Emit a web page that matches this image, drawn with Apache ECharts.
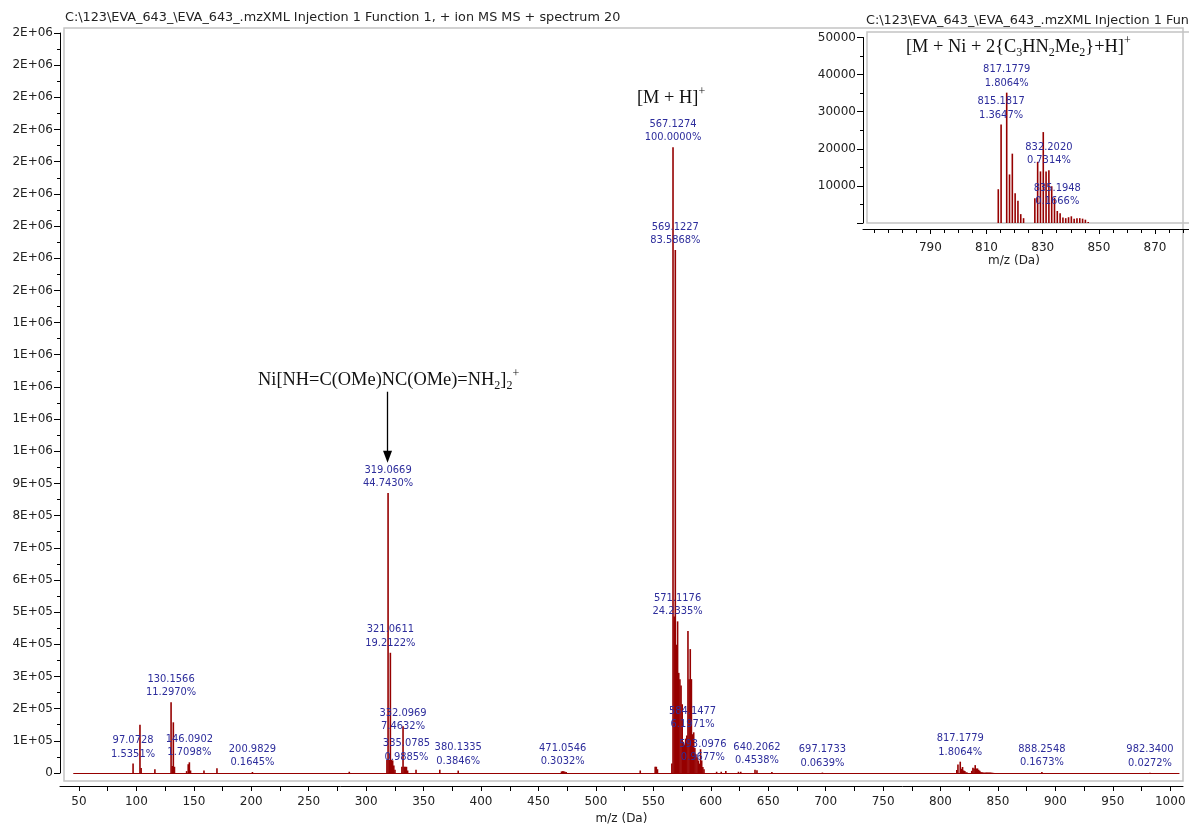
<!DOCTYPE html>
<html>
<head>
<meta charset="utf-8">
<script src="https://cdn.jsdelivr.net/npm/echarts@6/dist/echarts.min.js"></script>
<style>
  html, body { margin: 0; padding: 0; background: #ffffff; }
  #chart { width: 1189px; height: 826px; }
</style>
</head>
<body>
<div id="chart"></div>
<script>
// Intensity of the base peak (100 %), counts
const baseIntensity = 1945000;

// Centroided sticks: m/z and relative intensity (% of base peak)
const peakMz = [
  97.0728, 103.08, 104.08, 116.07, 130.1566, 131.13, 132.12, 133.1, 143.7, 145.08, 146.0902, 147.09, 158.8, 170.1, 200.9829, 285.3,
  318.07, 319.0669, 320.07, 321.0611, 322.06, 323.07, 324.07, 325.07, 331.09, 332.0969, 333.09, 334.09, 335.0785, 336.08, 343.4,
  364.1, 380.1335, 470.05, 471.0546, 472.05, 473.06, 474.1, 538.6, 551.6, 552.6, 553.6,
  566.12, 567.1274, 568.13, 569.1227, 570.12, 571.1176, 572.12, 573.12, 574.12, 575.12, 576.1, 577.1, 578.13, 579.14, 580.14, 581.14, 582.14, 583.14,
  584.1477, 585.14, 586.14, 587.1, 588.1, 589.1, 590.1, 591.1, 592.1, 593.0976, 594.1, 605.1, 609.1, 613.1, 624.1, 626.1, 638.5, 640.2062, 653.2, 697.1733,
  814.18, 815.1817, 817.1779, 818.18, 819.18, 820.18, 821.18, 822.18, 823.18,
  827.2, 828.2, 829.2, 830.2, 831.2, 832.2020, 833.2, 834.2, 835.1948, 836.2, 837.2, 838.2, 839.2, 840.2, 841.2, 842.2, 843.2, 844.2, 845.2, 846.2,
  888.2548, 982.3400
];
const peakPct = [
  1.5351, 7.7, 0.8, 0.6, 11.2970, 1.1, 8.1, 1.0, 0.3, 1.4, 1.7098, 0.4, 0.4, 0.75, 0.1645, 0.2,
  2.1, 44.7430, 2.1, 19.2122, 2.1, 2.0, 1.2, 0.5, 1.0, 7.4632, 1.0, 1.0, 0.9885, 0.4, 0.5,
  0.5, 0.3846, 0.25, 0.3032, 0.28, 0.2, 0.15, 0.4, 1.0, 1.0, 0.6,
  1.5, 100.0000, 25, 83.5868, 20.5, 24.2335, 16, 15, 14, 11, 5, 4.5, 5.5, 6, 22.7, 15, 19.8, 15,
  6.1971, 6.5, 4, 3, 2.5, 2, 1.5, 3.8, 2.0, 0.9677, 0.6, 0.2, 0.2, 0.3, 0.2, 0.2, 0.5, 0.4538, 0.15, 0.0639,
  0.468, 1.3647, 1.8064, 0.673, 0.961, 0.411, 0.308, 0.123, 0.067,
  0.344, 0.848, 0.715, 1.26, 0.715, 0.7314, 0.509, 0.35, 0.1666, 0.134, 0.077, 0.067, 0.08, 0.093, 0.06, 0.067, 0.067, 0.06, 0.046, 0.015,
  0.1673, 0.0272
];

// Peaks annotated with m/z and % in the full spectrum and in the zoomed panel
const mainLabelMz = [97.0728, 130.1566, 146.0902, 200.9829, 319.0669, 321.0611, 332.0969, 335.0785, 380.1335,
  471.0546, 567.1274, 569.1227, 571.1176, 584.1477, 593.0976, 640.2062, 697.1733, 817.1779, 888.2548, 982.3400];
const insetLabelMz = [815.1817, 817.1779, 832.2020, 835.1948];

// Axis tick values
const mainXTicks = [50, 100, 150, 200, 250, 300, 350, 400, 450, 500, 550, 600, 650, 700, 750, 800, 850, 900, 950, 1000];
const mainXMinor = [75, 125, 175, 225, 275, 325, 375, 425, 475, 525, 575, 625, 675, 725, 775, 825, 875, 925, 975];
const insetXTicks = [790, 810, 830, 850, 870];
const insetXMinor = [770, 775, 780, 785, 795, 800, 805, 815, 820, 825, 835, 840, 845, 855, 860, 865, 875, 880];

// Scan range of the acquisition (drawn as the baseline)
const scanRange = [45, 1008];

const stickColor = '#960000';
const labelColor = '#2d2d9c';
const uiFont = 'DejaVu Sans';
const titleText = 'C:\\123\\EVA_643_\\EVA_643_.mzXML Injection 1 Function 1, + ion MS MS + spectrum 20';

// per-label vertical nudges (px) where the label sits lower than the stick top
const labelNudge = { '332.0969': 10 };

function sci(v) {
  if (v === 0) return '0';
  const parts = v.toExponential(0).split('e');
  const ex = parseInt(parts[1], 10);
  return parts[0] + 'E' + (ex < 0 ? '-' : '+') + String(Math.abs(ex)).padStart(2, '0');
}

function peakLabel(m, pct) {
  return m.toFixed(4) + '\n' + pct.toFixed(4) + '%';
}

function buildData(labelSet, nudges) {
  return peakMz.map((m, i) => {
    const item = { value: [m, peakPct[i] / 100 * baseIntensity] };
    if (labelSet.indexOf(m) >= 0) {
      const key = m.toFixed(4);
      item.label = { show: true, formatter: peakLabel(m, peakPct[i]) };
      if (nudges && nudges[key]) item.label.offset = [0, nudges[key]];
    }
    return item;
  });
}

const labelStyle = {
  position: 'top',
  distance: 3,
  color: labelColor,
  fontFamily: 'DejaVu Sans Condensed',
  fontSize: 11,
  lineHeight: 13.5
};

const serif = 'Liberation Serif';
const formulaRich = {
  s: { fontSize: 12, fontFamily: serif, fill: '#111', verticalAlign: 'bottom', lineHeight: 24 },
  p: { fontSize: 12, fontFamily: serif, fill: '#111', verticalAlign: 'top', lineHeight: 24 }
};
const formulaFont = '18.4px "Liberation Serif"';

const tickStyle = { color: '#000', width: 1 };

const chart = echarts.init(document.getElementById('chart'));

chart.setOption({
  animation: false,
  backgroundColor: '#ffffff',
  textStyle: { fontFamily: uiFont },
  grid: [
    { left: 60, top: 33, right: 6, bottom: 53, outerBoundsMode: 'none', containLabel: false },
    { left: 863, top: 37.5, right: 0, bottom: 603, outerBoundsMode: 'none', containLabel: false }
  ],
  xAxis: [
    {
      type: 'value', gridIndex: 0, position: 'bottom', min: 33.46, max: 1011.1, offset: 13,
      name: 'm/z (Da)', nameLocation: 'middle', nameGap: 25,
      nameTextStyle: { fontSize: 12, color: '#222', fontFamily: uiFont },
      axisLine: { onZero: false, lineStyle: { color: '#000', width: 1 } },
      axisTick: { show: true, length: 5, inside: false, customValues: mainXTicks, lineStyle: tickStyle },
      axisLabel: { customValues: mainXTicks, formatter: v => String(v), color: '#222', fontSize: 12, margin: 10, fontFamily: uiFont },
      splitLine: { show: false }
    },
    {
      type: 'value', gridIndex: 0, position: 'bottom', min: 33.46, max: 1011.1, offset: 13,
      axisLine: { show: false, onZero: false },
      axisTick: { show: true, length: 5, customValues: mainXMinor, lineStyle: tickStyle },
      axisLabel: { show: false },
      splitLine: { show: false }
    },
    {
      type: 'value', gridIndex: 1, position: 'bottom', min: 766.0, max: 882.1, offset: 6,
      name: 'm/z (Da)', nameLocation: 'middle', nameGap: 25,
      nameTextStyle: { fontSize: 12, color: '#222', fontFamily: uiFont, padding: [0, 24, 0, 0] },
      axisLine: { onZero: false, lineStyle: { color: '#000', width: 1 } },
      axisTick: { show: true, length: 5, customValues: insetXTicks, lineStyle: tickStyle },
      axisLabel: { customValues: insetXTicks, formatter: v => String(v), color: '#222', fontSize: 12, margin: 13, fontFamily: uiFont },
      splitLine: { show: false }
    },
    {
      type: 'value', gridIndex: 1, position: 'bottom', min: 766.0, max: 882.1, offset: 6,
      axisLine: { show: false, onZero: false },
      axisTick: { show: true, length: 4, customValues: insetXMinor, lineStyle: tickStyle },
      axisLabel: { show: false },
      splitLine: { show: false }
    }
  ],
  yAxis: [
    {
      type: 'value', gridIndex: 0, min: 0, max: 2300000, interval: 100000,
      axisLine: { show: true, onZero: false, lineStyle: { color: '#000' } },
      axisTick: { show: true, length: 6, lineStyle: tickStyle },
      minorTick: { show: true, splitNumber: 2, length: 3, lineStyle: tickStyle },
      axisLabel: { formatter: sci, color: '#222', fontSize: 12, margin: 7, fontFamily: uiFont },
      splitLine: { show: false }
    },
    {
      type: 'value', gridIndex: 1, min: 0, max: 50000, interval: 10000,
      axisLine: { show: true, onZero: false, lineStyle: { color: '#000' } },
      axisTick: { show: true, length: 6, lineStyle: tickStyle },
      minorTick: { show: true, splitNumber: 2, length: 3, lineStyle: tickStyle },
      axisLabel: { formatter: v => (v === 0 ? '' : String(v)), color: '#222', fontSize: 12, margin: 7, fontFamily: uiFont },
      splitLine: { show: false }
    }
  ],
  graphic: [
    { type: 'rect', z: -1, shape: { x: 64, y: 28, width: 1119, height: 753 }, style: { fill: 'none', stroke: '#c4c4c4', lineWidth: 1.5 } },
    { type: 'rect', z: 10, shape: { x: 867, y: 32, width: 330, height: 191 }, style: { fill: 'rgba(255,255,255,0)', stroke: '#c4c4c4', lineWidth: 1.5 } },
    { type: 'rect', z: -2, shape: { x: 818, y: 10, width: 375, height: 265 }, style: { fill: '#ffffff' } },
    { type: 'text', left: 65, top: 11, z: 20,
      style: { text: titleText, fill: '#222', font: '12.8px "DejaVu Sans"' } },
    { type: 'text', left: 866, top: 14, z: 20,
      style: { text: titleText, fill: '#222', font: '12.8px "DejaVu Sans"' } },
    { type: 'text', left: 637, top: 86, z: 20,
      style: { text: '[M + H]{p|+}', font: formulaFont, fill: '#111', rich: formulaRich } },
    { type: 'text', left: 258, top: 368, z: 20,
      style: { text: 'Ni[NH=C(OMe)NC(OMe)=NH{s|2}]{s|2}{p|+}', font: formulaFont, fill: '#111', rich: formulaRich } },
    { type: 'text', left: 906, top: 35, z: 20,
      style: { text: '[M + Ni + 2{C{s|3}HN{s|2}Me{s|2}}+H]{p|+}', font: formulaFont, fill: '#111', rich: formulaRich } }
  ],
  series: [
    {
      type: 'bar', xAxisIndex: 0, yAxisIndex: 0, barWidth: 1.6,
      itemStyle: { color: stickColor },
      label: labelStyle,
      data: buildData(mainLabelMz, labelNudge),
      markLine: {
        silent: true, symbol: ['none', 'none'], label: { show: false },
        lineStyle: { color: stickColor, width: 1.2, type: 'solid' },
        data: [[{ coord: [scanRange[0], 0] }, { coord: [scanRange[1], 0] }]]
      },
      z: 3
    },
    {
      type: 'line', xAxisIndex: 0, yAxisIndex: 0, data: [], silent: true,
      markLine: {
        silent: true, symbol: ['none', 'triangle'], symbolSize: [9, 12], label: { show: false },
        lineStyle: { color: '#000', width: 1.3, type: 'solid' },
        data: [[{ coord: [318.6, 1185000] }, { coord: [318.6, 983000] }]]
      }
    },
    {
      type: 'bar', xAxisIndex: 2, yAxisIndex: 1, barWidth: 1.6, clip: true,
      itemStyle: { color: stickColor },
      label: labelStyle,
      data: buildData(insetLabelMz, null),
      z: 12
    }
  ]
});
</script>
</body>
</html>
